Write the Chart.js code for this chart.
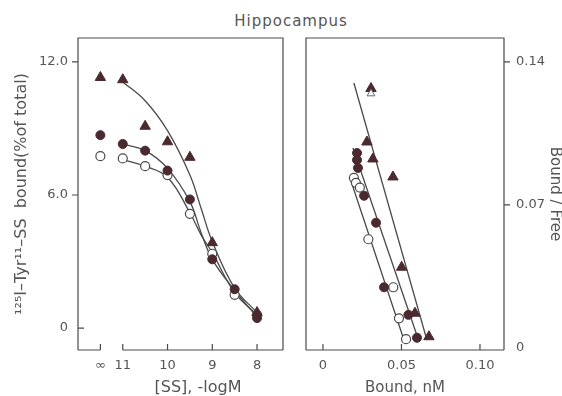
<!DOCTYPE html>
<html>
<head>
<meta charset="utf-8">
<script src="https://cdn.jsdelivr.net/npm/chart.js@4.4.1/dist/chart.umd.min.js"></script>
<style>
    body {
        margin: 0;
        width: 562px;
        height: 396px;
        position: relative;
        overflow: hidden;
        background: #fff;
        font-family: "DejaVu Sans", sans-serif;
        color: #555;
    }
    #leftChart { position: absolute; left: 0; top: 0; }
    #rightChart { position: absolute; left: 290px; top: 0; }
    .title {
        position: absolute;
        left: 200px; width: 182px; top: 12px;
        text-align: center;
        font-size: 15px;
        letter-spacing: 1px;
        line-height: 18px;
    }
    .xlab {
        position: absolute;
        left: 138px; width: 120px; top: 378px;
        text-align: center;
        font-size: 16px;
        line-height: 18px;
    }
</style>
</head>
<body>
<div class="title">Hippocampus</div>
<canvas id="leftChart" width="300" height="396"></canvas>
<canvas id="rightChart" width="272" height="396"></canvas>
<div class="xlab">[SS], -logM</div>

<script>
// =========================
// DATA - left panel (displacement)
// =========================
// 11.5 stands for the "∞" position (no unlabelled SS)
const doseX = [11.5, 11, 10.5, 10, 9.5, 9, 8.5, 8];
const triBound = [11.3, 11.2, 9.1, 8.4, 7.7, 3.85, null, 0.7];
const dotBound = [8.7, 8.3, 8.0, 7.1, 5.8, 3.1, 1.75, 0.45];
const ringBound = [7.75, 7.65, 7.3, 6.9, 5.15, 3.35, 1.5, 0.6];

// fitted curves
const fitX = [11, 10.5, 10, 9.5, 9.25, 9, 8.5, 8];
const fitTri = [11.1, 10.25, 8.9, 6.9, 5.4, 3.9, 1.8, 0.7];
const fitDot = [8.3, 8.0, 7.2, 5.7, 4.3, 3.1, 1.7, 0.5];
const fitRing = [7.6, 7.3, 6.8, 5.2, 4.2, 3.4, 1.6, 0.6];

const leftXTicks = [11.5, 11, 10, 9, 8];
const leftYTicks = [0, 6, 12];

// =========================
// DATA - right panel (Scatchard)
// =========================
const triBX = [0.0306, 0.028, 0.0318, 0.0446, 0.0501, 0.0586, 0.0675];
const triBY = [0.127, 0.1008, 0.0925, 0.0837, 0.0395, 0.017, 0.0055];
const openTriBX = [0.0306];
const openTriBY = [0.1245];
const dotBX = [0.0217, 0.0217, 0.0223, 0.0262, 0.0338, 0.0389, 0.0544, 0.0599];
const dotBY = [0.0954, 0.092, 0.0881, 0.0745, 0.0613, 0.0297, 0.0162, 0.005];
const ringBX = [0.0197, 0.021, 0.0235, 0.0289, 0.0448, 0.0484, 0.0529];
const ringBY = [0.0832, 0.0808, 0.0785, 0.0532, 0.0297, 0.0145, 0.0043];

// regression lines (end points)
const lineTriX = [0.0197, 0.0662];
const lineTriY = [0.1297, 0.0039];
const lineDotX = [0.0191, 0.0607];
const lineDotY = [0.0979, 0.0043];
const lineRingX = [0.0172, 0.0516];
const lineRingY = [0.0832, 0.0039];

const rightXTicks = [0, 0.05, 0.10];
const rightYTicks = [0, 0.07, 0.14];

// =========================
// STYLE
// =========================
const INK = "#4a2a2f";
const LINE = "#4a4a4a";
const TEXT = "#555";
const FONT = "DejaVu Sans";

function pts(xs, ys) {
    return xs.map((x, i) => ({ x, y: ys[i] })).filter(p => p.y !== null);
}

function markers(label, data, style) {
    const base = {
        label,
        data,
        showLine: false,
        pointRadius: 4.5,
        pointBackgroundColor: INK,
        pointBorderColor: INK,
        pointBorderWidth: 1
    };
    if (style === "tri") {
        base.pointStyle = "triangle";
        base.pointRadius = 6;
    }
    if (style === "openTri") {
        base.pointStyle = "triangle";
        base.pointRadius = 4.5;
        base.pointBackgroundColor = "#fff";
        base.pointBorderColor = "#666";
    }
    if (style === "ring") {
        base.pointBackgroundColor = "#fff";
        base.pointBorderColor = "#4a4a4a";
        base.pointBorderWidth = 1.2;
    }
    return base;
}

function curve(label, data, tension) {
    return {
        label,
        data,
        showLine: true,
        pointRadius: 0,
        borderColor: LINE,
        borderWidth: 1.3,
        tension: tension || 0,
        fill: false
    };
}

// frame with broken axis + inward x ticks
const framePlugin = {
    id: "frame",
    afterDraw(chart, args, opts) {
        const { ctx, chartArea: a, scales } = chart;
        const x = scales.x;
        const y = scales.y;
        ctx.save();
        ctx.strokeStyle = LINE;
        ctx.lineWidth = 1.2;
        ctx.beginPath();
        ctx.moveTo(a.left, a.bottom);
        ctx.lineTo(a.left, a.top);
        ctx.lineTo(a.right, a.top);
        ctx.lineTo(a.right, a.bottom);

        if (opts.breakAt) {
            const p1 = x.getPixelForValue(opts.breakAt[0]);
            const p2 = x.getPixelForValue(opts.breakAt[1]);
            ctx.moveTo(a.left, a.bottom);
            ctx.lineTo(p1, a.bottom);
            ctx.moveTo(p2, a.bottom);
            ctx.lineTo(a.right, a.bottom);
        } else {
            ctx.moveTo(a.left, a.bottom);
            ctx.lineTo(a.right, a.bottom);
        }

        x.ticks.forEach(t => {
            const px = x.getPixelForValue(t.value);
            ctx.moveTo(px, a.bottom);
            ctx.lineTo(px, a.bottom - 6);
        });

        const right = y.position === "right";
        y.ticks.forEach(t => {
            if ((opts.skipY || []).includes(t.value)) return;
            const py = y.getPixelForValue(t.value);
            const edge = right ? a.right : a.left;
            let d = right ? 6 : -6;
            if ((opts.inwardY || []).includes(t.value)) d = -d;
            ctx.moveTo(edge, py);
            ctx.lineTo(edge + d, py);
        });
        ctx.stroke();
        ctx.restore();
    }
};

const tickFont = { family: FONT, size: 13 };

// =========================
// LEFT CHART
// =========================
new Chart(document.getElementById("leftChart"), {
    type: "scatter",
    data: {
        datasets: [
            markers("triangles", pts(doseX, triBound), "tri"),
            markers("filled", pts(doseX, dotBound), "dot"),
            markers("open", pts(doseX, ringBound), "ring"),
            curve("fit tri", pts(fitX, fitTri), 0.4),
            curve("fit dot", pts(fitX, fitDot), 0.4),
            curve("fit ring", pts(fitX, fitRing), 0.4)
        ]
    },
    options: {
        responsive: false,
        animation: false,
        layout: { padding: { top: 38, right: 17, left: 0, bottom: 0 } },
        plugins: {
            legend: { display: false },
            tooltip: { enabled: false },
            frame: { breakAt: [11.5, 11], inwardY: [0] }
        },
        scales: {
            x: {
                type: "linear",
                reverse: true,
                min: 7.42,
                max: 12.0,
                grid: { display: false, drawTicks: false },
                border: { display: false },
                afterBuildTicks: s => { s.ticks = leftXTicks.map(v => ({ value: v })); },
                afterFit: s => { s.height = 46; },
                ticks: {
                    autoSkip: false,
                    maxRotation: 0,
                    padding: 8,
                    color: TEXT,
                    font: tickFont,
                    callback: v => (v === 11.5 ? "∞" : String(v))
                }
            },
            y: {
                type: "linear",
                min: -0.99,
                max: 13.08,
                grid: { display: false, drawTicks: false },
                border: { display: false },
                afterBuildTicks: s => { s.ticks = leftYTicks.map(v => ({ value: v })); },
                afterFit: s => { s.width = 78; },
                ticks: {
                    padding: 10,
                    color: TEXT,
                    font: tickFont,
                    callback: v => (v === 0 ? "0" : v.toFixed(1))
                },
                title: {
                    display: true,
                    text: "¹²⁵I–Tyr¹¹–SS  bound(%of total)",
                    color: TEXT,
                    font: { family: FONT, size: 16, lineHeight: 1 },
                    padding: { top: 14, bottom: 0 }
                }
            }
        }
    },
    plugins: [framePlugin]
});

// =========================
// RIGHT CHART
// =========================
new Chart(document.getElementById("rightChart"), {
    type: "scatter",
    data: {
        datasets: [
            markers("open tri", pts(openTriBX, openTriBY), "openTri"),
            markers("triangles", pts(triBX, triBY), "tri"),
            markers("filled", pts(dotBX, dotBY), "dot"),
            markers("open", pts(ringBX, ringBY), "ring"),
            curve("line tri", pts(lineTriX, lineTriY)),
            curve("line dot", pts(lineDotX, lineDotY)),
            curve("line ring", pts(lineRingX, lineRingY))
        ]
    },
    options: {
        responsive: false,
        animation: false,
        layout: { padding: { top: 38, left: 16, right: 0, bottom: 0 } },
        plugins: {
            legend: { display: false },
            tooltip: { enabled: false },
            frame: { skipY: [0] }
        },
        scales: {
            x: {
                type: "linear",
                min: -0.0108,
                max: 0.1153,
                grid: { display: false, drawTicks: false },
                border: { display: false },
                afterBuildTicks: s => { s.ticks = rightXTicks.map(v => ({ value: v })); },
                afterFit: s => { s.height = 46; },
                ticks: {
                    autoSkip: false,
                    maxRotation: 0,
                    padding: 8,
                    color: TEXT,
                    font: tickFont,
                    callback: v => (v === 0 ? "0" : v.toFixed(2))
                },
                title: {
                    display: true,
                    text: "Bound, nM",
                    color: TEXT,
                    font: { family: FONT, size: 15, lineHeight: 1 },
                    padding: { top: 0, bottom: 0 }
                }
            },
            y: {
                type: "linear",
                position: "right",
                min: -0.001,
                max: 0.1517,
                grid: { display: false, drawTicks: false },
                border: { display: false },
                afterBuildTicks: s => { s.ticks = rightYTicks.map(v => ({ value: v })); },
                afterFit: s => { s.width = 58; },
                ticks: {
                    padding: 12,
                    color: TEXT,
                    font: tickFont,
                    callback: v => (v === 0 ? "0" : v.toFixed(2))
                },
                title: {
                    display: true,
                    text: "Bound / Free",
                    color: TEXT,
                    font: { family: FONT, size: 15, lineHeight: 1 },
                    padding: { top: 0, bottom: 0 }
                }
            }
        }
    },
    plugins: [framePlugin]
});
</script>
</body>
</html>
